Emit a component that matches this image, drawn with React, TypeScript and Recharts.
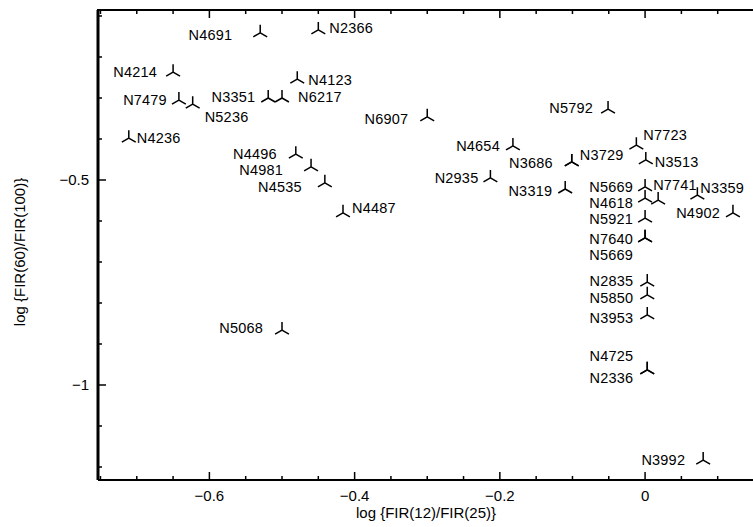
import { ScatterChart, Scatter, XAxis, YAxis } from 'recharts'

// galaxy names and their two colour ratios
const GALAXIES = [
  'N4691', 'N2366', 'N4214', 'N4123', 'N7479', 'N5236', 'N3351', 'N6217', 'N4236', 'N6907',
  'N4496', 'N4981', 'N4535', 'N4487', 'N5068', 'N5792', 'N4654', 'N3686', 'N3729', 'N7723',
  'N3513', 'N2935', 'N3319', 'N5669', 'N4618', 'N7741', 'N3359', 'N4902', 'N5921', 'N7640',
  'N5669', 'N2835', 'N5850', 'N3953', 'N4725', 'N2336', 'N3992',
]
// log FIR(12)/FIR(25)
const X_RATIO = [
  -0.53, -0.45, -0.65, -0.479, -0.642, -0.623, -0.519, -0.5, -0.711, -0.3,
  -0.481, -0.46, -0.441, -0.416, -0.5, -0.051, -0.182, -0.101, -0.101, -0.012,
  0.001, -0.213, -0.11, 0, 0, 0.018, 0.072, 0.121, 0, 0,
  0, 0.003, 0.003, 0.003, 0.003, 0.003, 0.08,
]
// log FIR(60)/FIR(100)
const Y_RATIO = [
  -0.141, -0.134, -0.237, -0.254, -0.305, -0.315, -0.3, -0.3, -0.398, -0.346,
  -0.437, -0.468, -0.507, -0.58, -0.866, -0.327, -0.417, -0.456, -0.456, -0.415,
  -0.451, -0.495, -0.522, -0.517, -0.544, -0.549, -0.537, -0.58, -0.593, -0.641,
  -0.641, -0.749, -0.78, -0.829, -0.963, -0.963, -1.183,
]

const X_DOMAIN = [-0.7534, 0.15]
const Y_DOMAIN = [-1.2317, -0.0854]
const X_MAJOR = [-0.6, -0.4, -0.2, 0]
const X_MINOR = [
  -0.75, -0.7, -0.65, -0.6, -0.55, -0.5, -0.45, -0.4, -0.35, -0.3, -0.25, -0.2, -0.15,
  -0.1, -0.05, 0, 0.05, 0.1, 0.15,
]
const Y_MAJOR = [-0.5, -1]
const Y_MINOR = [-1.2, -1.1, -1, -0.9, -0.8, -0.7, -0.6, -0.5, -0.4, -0.3, -0.2, -0.1]

// where each name sits next to its marker: side, gap (px), vertical shift (px)
const LABEL_PLACE: [string, number, number][] = [
  ['l', 28, 2], ['r', 11, -2], ['l', 16, 0], ['r', 11, 1], ['l', 12, 0], ['r', 12, 13],
  ['l', 13, -1], ['r', 16, -1], ['r', 8, 0], ['l', 19, 2], ['l', 19, 0], ['l', 28, 3],
  ['l', 23, 4], ['r', 9, -5], ['l', 19, -2], ['l', 15, -1], ['l', 13, 0], ['l', 19, 1],
  ['r', 8, -7], ['r', 7, -10], ['r', 9, 2], ['l', 12, 0], ['l', 13, 2], ['l', 12, 0],
  ['l', 12, 5], ['r', -5, -15], ['r', 3, -7], ['l', 13, 0], ['l', 12, 1], ['l', 12, 1],
  ['l', 12, 17], ['l', 14, -1], ['l', 14, 3], ['l', 14, 3], ['l', 14, -14], ['l', 14, 8],
  ['l', 18, 0],
]

// chart geometry
const CHART_W = 770
const CHART_H = 527
const MARGIN = { top: 10, right: 16, bottom: 0, left: 0 }
const Y_AXIS_W = 98
const X_AXIS_H = 47
const PLOT_LEFT = MARGIN.left + Y_AXIS_W
const PLOT_W = CHART_W - MARGIN.left - MARGIN.right - Y_AXIS_W
const PLOT_H = CHART_H - MARGIN.top - MARGIN.bottom - X_AXIS_H

const data = GALAXIES.map((name, i) => ({ name, i, x: X_RATIO[i], y: Y_RATIO[i] }))

const fmt = (v: number) => (v === 0 ? '0' : '\u2212' + String(Math.abs(v)))

function TriStar(props: any) {
  const { cx, cy, payload } = props
  const [side, gap, dy] = LABEL_PLACE[payload.i]
  const r = 8
  return (
    <g>
      <path
        d={`M${cx},${cy} L${cx},${cy - r} M${cx},${cy} L${cx - r * 0.866},${cy + r * 0.5} M${cx},${cy} L${cx + r * 0.866},${cy + r * 0.5}`}
        stroke="#000"
        strokeWidth={1.5}
        fill="none"
      />
      <text
        x={side === 'l' ? cx - gap : cx + gap}
        y={cy + dy + 5}
        textAnchor={side === 'l' ? 'end' : 'start'}
        fontSize={14.5}
        letterSpacing={0.2}
        fill="#000"
      >
        {payload.name}
      </text>
    </g>
  )
}

// bottom tick plus its twin hanging from the top edge of the frame
function BottomTick({ x, y, payload }: any) {
  const major = X_MAJOR.includes(payload.value)
  const len = major ? 8 : 4
  const top = y - PLOT_H
  return (
    <g>
      <line x1={x} x2={x} y1={y} y2={y - len} stroke="#000" strokeWidth={1.5} />
      <line x1={x} x2={x} y1={top} y2={top + len} stroke="#000" strokeWidth={1.5} />
      {major && (
        <text x={x} y={y + 21} textAnchor="middle" fontSize={15} fill="#000">
          {fmt(payload.value)}
        </text>
      )}
    </g>
  )
}

function LeftTick({ x, y, payload }: any) {
  const major = Y_MAJOR.includes(payload.value)
  return (
    <g>
      <line x1={x} x2={x + (major ? 8 : 4)} y1={y} y2={y} stroke="#000" strokeWidth={1.5} />
      {major && (
        <text x={x - 9} y={y + 5} textAnchor="end" fontSize={15} fill="#000">
          {fmt(payload.value)}
        </text>
      )}
    </g>
  )
}

function XTitle({ viewBox }: any) {
  const cx = viewBox ? viewBox.x + viewBox.width / 2 : 426
  return (
    <text x={cx} y={518} textAnchor="middle" fontSize={15} fill="#000">
      log {'{'}FIR(12)/FIR(25){'}'}
    </text>
  )
}

function YTitle({ viewBox }: any) {
  const cy = viewBox ? viewBox.y + viewBox.height / 2 + 7 : 252
  const x = 25
  return (
    <text x={x} y={cy} transform={`rotate(-90 ${x} ${cy})`} textAnchor="middle" fontSize={15} fill="#000">
      log {'{'}FIR(60)/FIR(100){'}'}
    </text>
  )
}

export default function App() {
  return (
    <div
      style={{
        position: 'fixed',
        left: 0,
        top: 0,
        width: 753,
        height: 527,
        overflow: 'hidden',
        background: '#fff',
        fontFamily: '"Liberation Sans", Arial, Helvetica, sans-serif',
      }}
    >
      <ScatterChart width={CHART_W} height={CHART_H} margin={MARGIN}>
        <XAxis
          type="number"
          dataKey="x"
          domain={X_DOMAIN}
          ticks={X_MINOR}
          interval={0}
          height={X_AXIS_H}
          tickSize={0}
          tickMargin={0}
          tickLine={false}
          tick={<BottomTick />}
          axisLine={{ stroke: '#000', strokeWidth: 2 }}
          label={<XTitle />}
        />
        <YAxis
          type="number"
          dataKey="y"
          domain={Y_DOMAIN}
          ticks={Y_MINOR}
          interval={0}
          width={Y_AXIS_W}
          tickSize={0}
          tickMargin={0}
          tickLine={false}
          tick={<LeftTick />}
          axisLine={{ stroke: '#000', strokeWidth: 3 }}
          label={<YTitle />}
        />
        <Scatter data={data} shape={<TriStar />} isAnimationActive={false} />
      </ScatterChart>
      {/* top edge of the frame */}
      <div
        style={{
          position: 'absolute',
          left: PLOT_LEFT - 1,
          top: MARGIN.top - 1,
          width: PLOT_W + 2,
          height: 2,
          background: '#000',
        }}
      />
    </div>
  )
}
